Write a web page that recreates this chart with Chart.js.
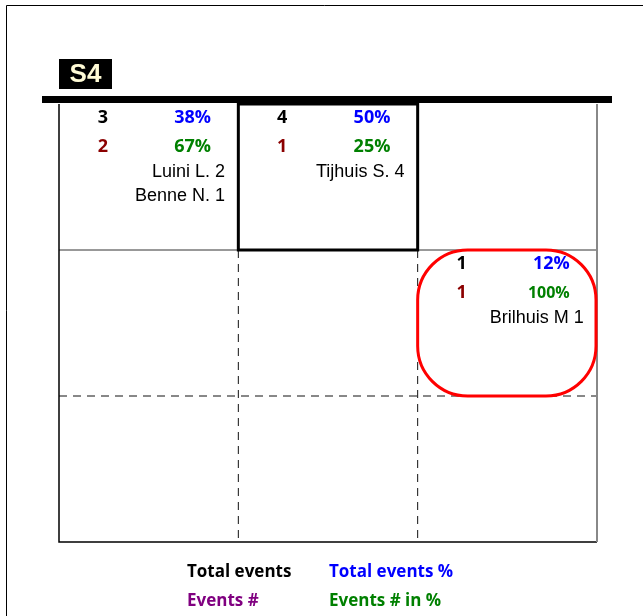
<!DOCTYPE html>
<html>
<head>
<meta charset="utf-8">
<script src="https://cdn.jsdelivr.net/npm/chart.js@4"></script>
<style>
  body { margin: 0; background: #fff; }
  canvas { display: block; }
</style>
</head>
<body>
<canvas id="chart1" width="643" height="616"></canvas>
<script>
const ctx = document.getElementById('chart1');

// grid data: one entry per filled cell
const panelLabel = 'S4';
const cellCols = [0, 1, 2];
const cellRows = [0, 0, 1];
const totalEvents = [3, 4, 1];
const totalEventsPct = [38, 50, 12];
const eventsNum = [2, 1, 1];
const eventsPct = [67, 25, 100];
const cellNames = [['Luini L. 2', 'Benne N. 1'], ['Tijhuis S. 4'], ['Brilhuis M 1']];
const cellMarks = ['', 'box', 'ring'];
const legendLabels = ['Total events', 'Total events %', 'Events #', 'Events # in %'];

const colors = {
  total: '#000000',
  totalPct: '#0000ff',
  events: '#8b0000',
  eventsLegend: '#800080',
  eventsPct: '#008000'
};

const boldFont = (s) => 'bold ' + s + 'px "Open Sans", "Noto Sans", sans-serif';
const plainFont = (s) => s + 'px "Liberation Sans", Arial, sans-serif';

const gridPlugin = {
  id: 'gridPlugin',
  afterDraw(chart) {
    const c = chart.ctx;
    const xs = chart.scales.x;
    const ys = chart.scales.y;
    const px = (v) => xs.getPixelForValue(v);
    const py = (v) => ys.getPixelForValue(v);
    c.save();

    // page frame
    c.strokeStyle = '#000';
    c.lineWidth = 1;
    c.beginPath();
    c.moveTo(6.5, 616); c.lineTo(6.5, 5.5); c.lineTo(643, 5.5);
    c.stroke();

    // inner lines
    c.strokeStyle = '#333';
    c.lineWidth = 1;
    c.beginPath();
    c.moveTo(px(0), py(1)); c.lineTo(px(3), py(1));
    c.stroke();
    c.strokeStyle = '#111';
    c.setLineDash([8, 6]);
    c.beginPath();
    c.moveTo(px(0), py(2)); c.lineTo(px(3), py(2));
    [1, 2].forEach(i => { c.moveTo(px(i), py(1)); c.lineTo(px(i), py(3)); });
    c.stroke();
    c.setLineDash([]);

    // outer border
    c.strokeStyle = '#000';
    c.lineWidth = 1.5;
    c.beginPath();
    c.moveTo(px(0), py(0)); c.lineTo(px(0), py(3)); c.lineTo(px(3), py(3));
    c.stroke();
    c.strokeStyle = '#888';
    c.lineWidth = 2;
    c.beginPath();
    c.moveTo(px(3), py(0)); c.lineTo(px(3), py(3));
    c.stroke();

    // top bar and label
    c.fillStyle = '#000';
    c.fillRect(42, py(0) - 8, 570, 7);
    c.fillRect(59, 59, 53, 30);
    c.fillStyle = '#fffbd6';
    c.font = 'bold 26px "Liberation Sans", Arial, sans-serif';
    c.textAlign = 'center';
    c.textBaseline = 'middle';
    c.fillText(panelLabel, 85.5, 75);

    // cells
    const meta = chart.getDatasetMeta(0);
    meta.data.forEach((pt, i) => {
      const col = cellCols[i], row = cellRows[i];
      if (cellMarks[i] === 'box') {
        c.strokeStyle = '#000';
        c.lineWidth = 3;
        c.strokeRect(px(col), py(row), px(col + 1) - px(col), py(row + 1) - py(row));
      } else if (cellMarks[i] === 'ring') {
        c.strokeStyle = '#ff0000';
        c.lineWidth = 3;
        c.beginPath();
        c.roundRect(px(col), py(row), px(col + 1) - px(col) - 1, py(row + 1) - py(row), 50);
        c.stroke();
      }
      const pctFont = (t) => boldFont(t.length > 3 ? 16 : 18);
      c.textBaseline = 'middle';
      c.font = boldFont(18);
      c.textAlign = 'center';
      c.fillStyle = colors.total;
      c.fillText(String(totalEvents[i]), px(col + 0.245), py(row + 0.096));
      c.fillStyle = colors.events;
      c.fillText(String(eventsNum[i]), px(col + 0.245), py(row + 0.295));
      c.textAlign = 'right';
      let t = totalEventsPct[i] + '%';
      c.font = pctFont(t);
      c.fillStyle = colors.totalPct;
      c.fillText(t, px(col + 0.848), py(row + 0.096));
      t = eventsPct[i] + '%';
      c.font = pctFont(t);
      c.fillStyle = colors.eventsPct;
      c.fillText(t, px(col + 0.848), py(row + 0.295));
      c.font = plainFont(18);
      c.fillStyle = '#000';
      cellNames[i].forEach((n, k) => {
        c.fillText(n, px(col + 0.926), py(row + 0.465 + k * 0.165));
      });
    });

    // legend
    const legendColors = [colors.total, colors.totalPct, colors.eventsLegend, colors.eventsPct];
    c.font = boldFont(17);
    c.textAlign = 'left';
    legendLabels.forEach((l, i) => {
      c.fillStyle = legendColors[i];
      c.fillText(l, i % 2 ? 329 : 187, i < 2 ? 572 : 601);
    });
    c.restore();
  }
};

new Chart(ctx, {
  type: 'scatter',
  data: {
    datasets: [{
      data: cellCols.map((col, i) => ({ x: col + 0.5, y: cellRows[i] + 0.5 })),
      pointRadius: 0
    }]
  },
  options: {
    responsive: false,
    animation: false,
    layout: { padding: { left: 59, right: 46, top: 104, bottom: 74 } },
    plugins: { legend: { display: false }, tooltip: { enabled: false } },
    scales: {
      x: { display: false, min: 0, max: 3 },
      y: { display: false, min: 0, max: 3, reverse: true }
    }
  },
  plugins: [gridPlugin]
});
</script>
</body>
</html>
